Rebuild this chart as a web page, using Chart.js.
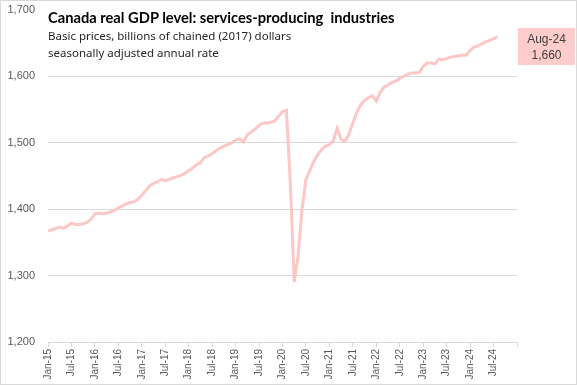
<!DOCTYPE html>
<html>
<head>
<meta charset="utf-8">
<script src="https://cdn.jsdelivr.net/npm/chart.js@4.4.1/dist/chart.umd.min.js"></script>
<style>
  html, body { margin: 0; padding: 0; background: #fff; }
  #wrap { position: relative; width: 577px; height: 385px; }
  #frame { position: absolute; left: 0; top: 0; width: 577px; height: 385px; box-sizing: border-box; border: 1px solid #d9d9d9; pointer-events: none; }
  .title { position: absolute; left: 48px; top: 8px; font: bold 14.7px Lato, sans-serif; color: #000; white-space: pre; }
  .sub { position: absolute; left: 48px; font: 11.5px "Noto Sans", sans-serif; color: #262626; white-space: pre; }
  .tag { position: absolute; left: 518px; top: 28px; width: 57px; height: 37px; background: #ffcccc;
         font: 12px "Liberation Sans", sans-serif; color: #404040; text-align: center; line-height: 16px; padding-top: 3px; box-sizing: border-box; }
</style>
</head>
<body>
<div id="wrap">
  <canvas id="gdpChart" width="577" height="385"></canvas>
  <div class="title">Canada real GDP level: services-producing  industries</div>
  <div class="sub" style="top:28px">Basic prices, billions of chained (2017) dollars</div>
  <div class="sub" style="top:45px">seasonally adjusted annual rate</div>
  <div class="tag">Aug-24<br>1,660</div>
  <div id="frame"></div>
</div>
<script>
// ========================
// Data (monthly, Jan-15 .. Aug-24)
// ========================
const startYear = 2015;
const monthNames = ['Jan', 'Feb', 'Mar', 'Apr', 'May', 'Jun', 'Jul', 'Aug', 'Sep', 'Oct', 'Nov', 'Dec'];

const gdp2015 = [1367, 1369, 1371, 1373, 1371, 1375, 1379, 1377, 1377, 1378, 1380, 1385];
const gdp2016 = [1393, 1394, 1393, 1394, 1396, 1398, 1402, 1405, 1408, 1410, 1411, 1415];
const gdp2017 = [1421, 1428, 1435, 1439, 1441, 1445, 1443, 1445, 1447, 1449, 1451, 1454];
const gdp2018 = [1458, 1462, 1467, 1470, 1478, 1480, 1484, 1488, 1492, 1495, 1497, 1500];
const gdp2019 = [1504, 1506, 1501, 1512, 1516, 1521, 1526, 1530, 1530, 1531, 1533, 1540];
const gdp2020 = [1547, 1549, 1440, 1290, 1330, 1400, 1445, 1458, 1472, 1482, 1490, 1495];
const gdp2021 = [1497, 1503, 1522, 1505, 1502, 1513, 1530, 1546, 1557, 1564, 1568, 1571];
const gdp2022 = [1563, 1576, 1584, 1587, 1591, 1593, 1597, 1600, 1603, 1605, 1605, 1606];
const gdp2023 = [1615, 1620, 1620, 1619, 1626, 1625, 1627, 1629, 1630, 1631, 1632, 1632];
const gdp2024 = [1639, 1644, 1646, 1649, 1652, 1654, 1657, 1660];

const gdpValues = [].concat(gdp2015, gdp2016, gdp2017, gdp2018, gdp2019,
                            gdp2020, gdp2021, gdp2022, gdp2023, gdp2024);

// axis runs Jan-15 .. Jan-25, labelled every 6 months
const axisMonths = 120;
const yTicks = [1200, 1300, 1400, 1500, 1600, 1700];

function monthLabel(i) {
    const y = startYear + Math.floor(i / 12);
    return monthNames[i % 12] + '-' + String(y).slice(2);
}

const points = gdpValues.map((v, i) => ({ x: i, y: v }));

const gridGrey = '#d9d9d9';
const tickFont = { family: "'Liberation Sans', Arial, sans-serif", size: 11 };

new Chart(document.getElementById('gdpChart'), {
    type: 'line',
    data: {
        datasets: [{
            label: 'Services-producing industries',
            data: points,
            borderColor: '#fbc8c6',
            borderWidth: 3,
            pointRadius: 0,
            tension: 0,
            fill: false
        }]
    },
    options: {
        responsive: false,
        animation: false,
        layout: { padding: { top: 10, right: 60, left: 0, bottom: 0 } },
        plugins: {
            legend: { display: false },
            tooltip: { enabled: false }
        },
        scales: {
            x: {
                type: 'linear',
                min: 0,
                max: axisMonths,
                afterFit: (s) => {
                    s.height = 43;
                    s.paddingLeft = 0;
                    s.paddingRight = 0;
                },
                afterBuildTicks: (s) => {
                    s.ticks = [];
                    for (let i = 0; i <= axisMonths; i += 6) s.ticks.push({ value: i });
                },
                ticks: {
                    autoSkip: false,
                    minRotation: 90,
                    maxRotation: 90,
                    padding: 2,
                    color: '#595959',
                    font: { family: "'Liberation Sans', Arial, sans-serif", size: 10 },
                    callback: (v) => (v < axisMonths ? monthLabel(v) : '')
                },
                grid: {
                    drawOnChartArea: false,
                    drawTicks: true,
                    tickLength: 5,
                    color: gridGrey
                },
                border: { display: true, color: gridGrey }
            },
            y: {
                min: yTicks[0],
                max: yTicks[yTicks.length - 1],
                afterFit: (s) => {
                    s.width = 48;
                    s.paddingTop = 0;
                    s.paddingBottom = 0;
                },
                afterBuildTicks: (s) => { s.ticks = yTicks.map(v => ({ value: v })); },
                ticks: {
                    padding: 13,
                    color: '#595959',
                    font: tickFont,
                    callback: (v) => v.toLocaleString('en-US')
                },
                grid: {
                    drawTicks: false,
                    color: (ctx) => (ctx.tick && ctx.tick.value === 1700 ? 'rgba(0,0,0,0)' : gridGrey)
                },
                border: { display: false }
            }
        }
    }
});
</script>
</body>
</html>
